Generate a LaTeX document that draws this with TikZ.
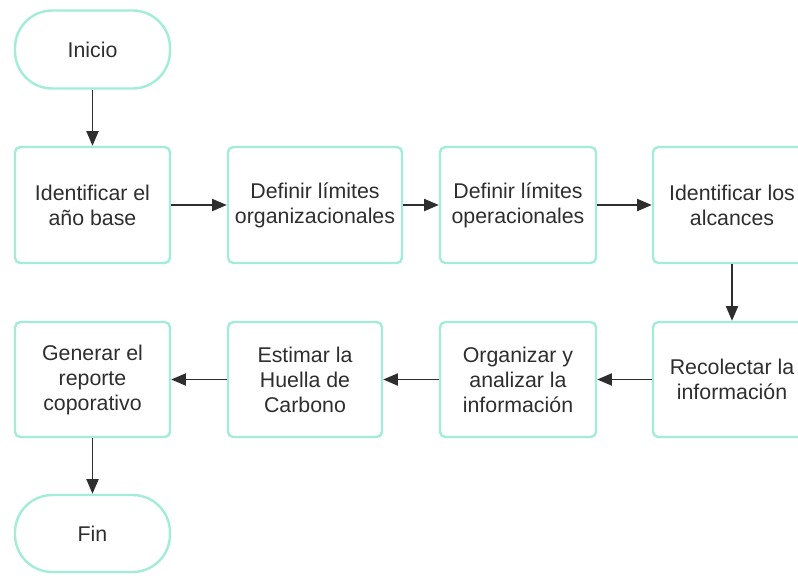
\documentclass[tikz,border=0pt]{standalone}
\usepackage{fontspec}
\setmainfont{Liberation Sans}
\usetikzlibrary{arrows.meta}
\definecolor{mint}{HTML}{A3EDD8}
\definecolor{ink}{HTML}{2E2E2E}
\begin{document}
\begin{tikzpicture}[x=0.75pt,y=-0.75pt,
  box/.style={draw=mint, line width=1.8pt, rounded corners=4pt, fill=white,
    align=center, text=ink, inner sep=0pt,
    font=\fontsize{16}{18.75}\selectfont},
  term/.style={box, rounded corners=28pt},
  arr/.style={draw=ink, line width=1.4pt, -{Triangle[length=11pt,width=9pt]}}]
\clip (0,0) rectangle (798,575);
\fill[white] (0,0) rectangle (798,575);
\node[term, minimum width=155*0.75pt, minimum height=78*0.75pt] (ini) at (92.5,49.5) {Inicio};
\node[box, minimum width=155*0.75pt, minimum height=116*0.75pt] (b1) at (92.5,205) {Identificar el\\año base};
\node[box, minimum width=174*0.75pt, minimum height=116*0.75pt] (b2) at (315,205) {Definir límites\\organizacionales};
\node[box, minimum width=156*0.75pt, minimum height=116*0.75pt] (b3) at (518,205) {Definir límites\\operacionales};
\node[box, minimum width=158*0.75pt, minimum height=116*0.75pt] (b4) at (732,205) {Identificar los\\alcances};
\node[box, minimum width=158*0.75pt, minimum height=115*0.75pt] (c4) at (732,379.5) {Recolectar la\\información};
\node[box, minimum width=156*0.75pt, minimum height=115*0.75pt] (c3) at (518,379.5) {Organizar y\\analizar la\\información};
\node[box, minimum width=154*0.75pt, minimum height=115*0.75pt] (c2) at (305,379.5) {Estimar la\\Huella de\\Carbono};
\node[box, minimum width=155*0.75pt, minimum height=115*0.75pt] (c1) at (92.5,379.5) {Generar el\\reporte\\coporativo};
\node[term, minimum width=155*0.75pt, minimum height=77*0.75pt] (fin) at (92.5,533.5) {Fin};
\draw[arr] (ini) -- (b1);
\draw[arr] (b1) -- (b2);
\draw[arr] (b2) -- (b3);
\draw[arr] (b3) -- (b4);
\draw[arr] (b4) -- (c4);
\draw[arr] (c4) -- (c3);
\draw[arr] (c3) -- (c2);
\draw[arr] (c2) -- (c1);
\draw[arr] (c1) -- (fin);
\end{tikzpicture}
\end{document}
